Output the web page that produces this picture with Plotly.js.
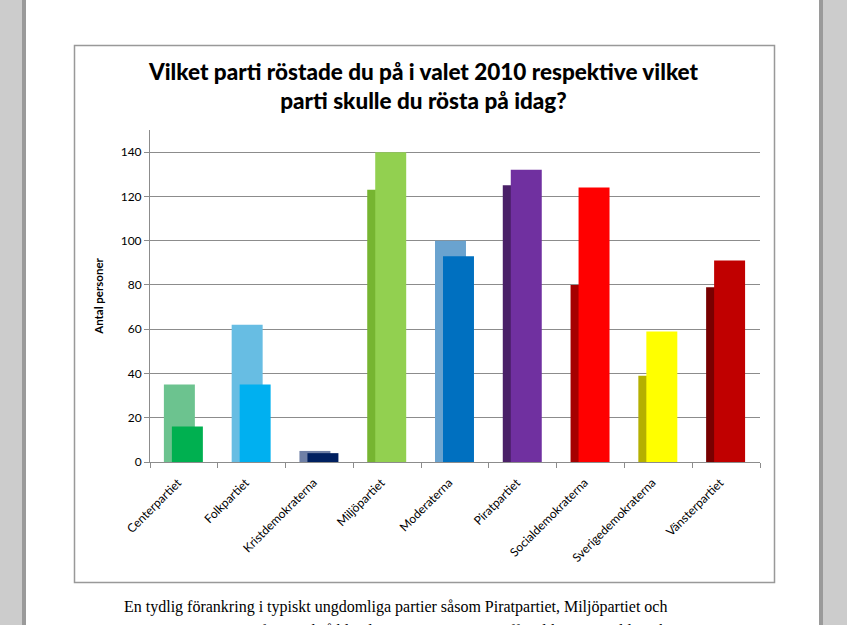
<!DOCTYPE html>
<html><head><meta charset="utf-8">
<script src="https://cdn.plot.ly/plotly-3.0.1.min.js"></script>
<style>html,body{margin:0;padding:0;background:#fff;}#chart{width:847px;height:625px;}</style>
</head><body><div id="chart"></div>
<script>
const categories = ["Centerpartiet","Folkpartiet","Kristdemokraterna","Miljöpartiet","Moderaterna","Piratpartiet","Socialdemokraterna","Sverigedemokraterna","Vänsterpartiet"];
const voted2010 = [35, 62, 5, 123, 100, 125, 80, 39, 79];
const voteToday = [16, 35, 4, 140, 93, 132, 124, 59, 91];
const colors2010 = ["#6cc38f","#67bde3","#6f80a6","#76b531","#6aa3cf","#4a2068","#a50000","#b5b000","#780000"];
const colorsToday = ["#00b050","#00b0f0","#002060","#92d050","#0070c0","#7030a0","#ff0000","#ffff00","#c00000"];
const yTicks = [0,20,40,60,80,100,120,140];

// page geometry helpers (pixel -> paper)
const L=150, R=760, T=130, B=462;
const px = x => (x-L)/(R-L);
const py = y => (B-y)/(B-T);
function rect(x0,y0,x1,y1,fill,line,lw){
  return {type:'rect',xref:'paper',yref:'paper',x0:px(x0),x1:px(x1),y0:py(y1),y1:py(y0),
    fillcolor:fill||'rgba(0,0,0,0)',line:{color:line||'rgba(0,0,0,0)',width:lw||0},layer:'below'};
}

const traces = [
  {type:'bar', name:'2010', x:categories, y:voted2010,
   marker:{color:colors2010, line:{width:0}}, width:0.457, offset:-0.295, hoverinfo:'x+y'},
  {type:'bar', name:'Idag', x:categories, y:voteToday,
   marker:{color:colorsToday, line:{width:0}}, width:0.457, offset:-0.177, hoverinfo:'x+y'}
];

const font = "Lato, 'Open Sans', sans-serif";
const layout = {
  width:847, height:625,
  margin:{l:L, r:847-R, t:T, b:625-B, pad:0},
  paper_bgcolor:'#ffffff', plot_bgcolor:'rgba(0,0,0,0)',
  barmode:'overlay', showlegend:false,
  font:{family:font, size:12, color:'#000'},
  title:{text:"Vilket parti röstade du på i valet 2010 respektive vilket<br>parti skulle du rösta på idag?",
    font:{family:font, size:22.5, weight:900, color:'#000'},
    x:0.5, xref:'container', xanchor:'center', y:1-80/625, yref:'container', yanchor:'top'},
  xaxis:{type:'category', showline:true, linecolor:'#8c8c8c', linewidth:1,
    ticks:'outside', tickson:'boundaries', ticklen:5, tickcolor:'#8c8c8c',
    tickangle:-45, ticklabelstandoff:8, ticklabelshift:-6,
    tickfont:{family:font, size:12, color:'#000'}, showgrid:false, fixedrange:true},
  yaxis:{range:[0,150], tickvals:yTicks, ticktext:yTicks.map(String),
    showline:true, linecolor:'#8c8c8c', linewidth:1,
    ticks:'outside', ticklen:5, tickcolor:'#8c8c8c',
    showgrid:true, gridcolor:'#8c8c8c', gridwidth:1, zeroline:false,
    tickfont:{family:font, size:12, color:'#000'},
    title:{text:"Antal personer", font:{family:font, size:11.5, weight:700, color:'#000'}, standoff:14}},
  shapes:[
    rect(0,0,26,625,'#cccccc'),
    rect(22,0,26,625,'#9a9a9a'),
    rect(819,0,847,625,'#cccccc'),
    rect(819,0,823,625,'#9a9a9a'),
    rect(74.5,45.5,774.5,582.5,'rgba(0,0,0,0)','#999999',1.5)
  ],
  annotations:[
    {xref:'paper', yref:'paper', x:px(122), y:py(607), xanchor:'left', yanchor:'middle', showarrow:false,
     text:"En tydlig förankring i typiskt ungdomliga partier såsom Piratpartiet, Miljöpartiet och",
     font:{family:"'Liberation Serif', 'Times New Roman', serif", size:16, color:'#000'}},
    {xref:'paper', yref:'paper', x:px(122), y:py(631), xanchor:'left', yanchor:'middle', showarrow:false,
     text:"Vänsterpartiet. Färre finns också bland Centerpartiet, vars siffror liknar Socialdemokraternas",
     font:{family:"'Liberation Serif', 'Times New Roman', serif", size:16, color:'#000'}}
  ]
};
Plotly.newPlot('chart', traces, layout, {displayModeBar:false, staticPlot:true});
</script></body></html>
